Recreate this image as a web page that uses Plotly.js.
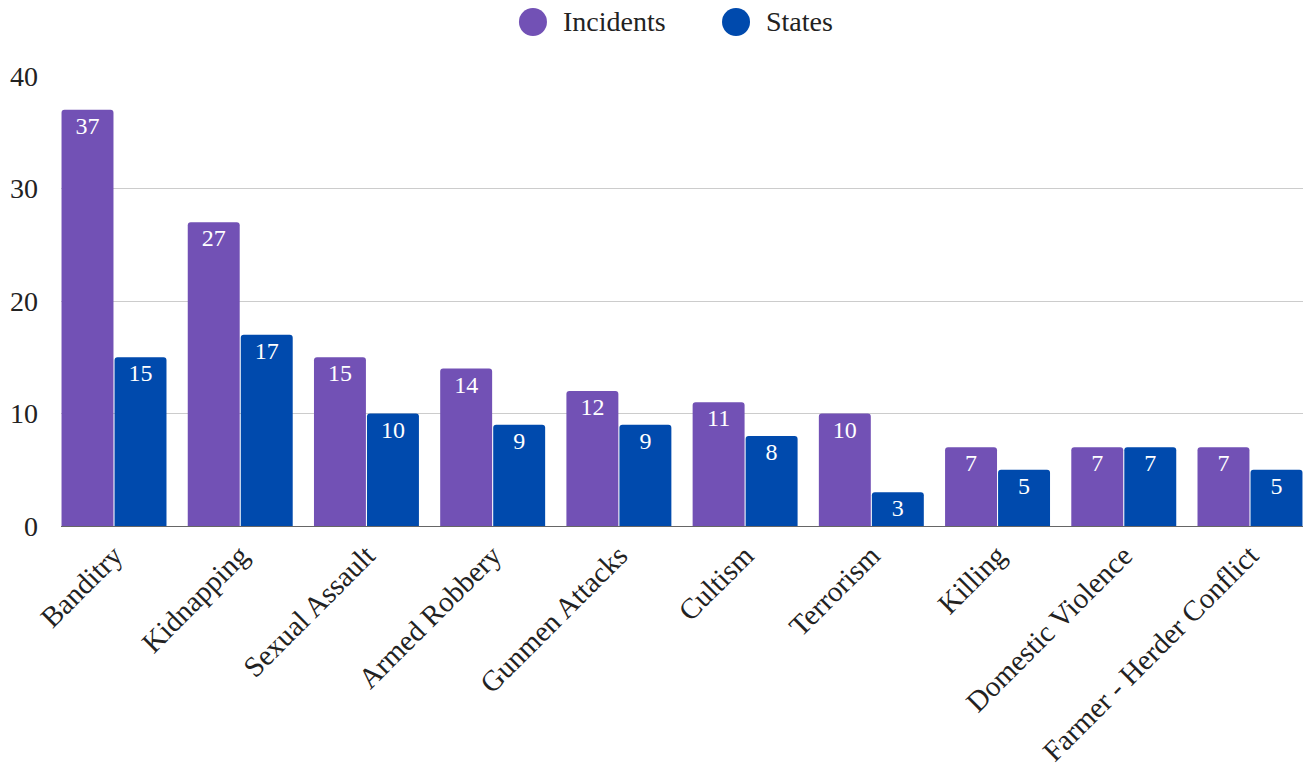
<!DOCTYPE html>
<html><head><meta charset="utf-8">
<script src="https://cdn.plot.ly/plotly-3.0.1.min.js"></script>
<style>html,body{margin:0;padding:0;background:#fff}#c{width:1308px;height:767px}</style>
</head><body><div id="c"></div>
<script>
const categories = ["Banditry","Kidnapping","Sexual Assault","Armed Robbery","Gunmen Attacks","Cultism","Terrorism","Killing","Domestic Violence","Farmer - Herder Conflict"];
const incidents = [37,27,15,14,12,11,10,7,7,7];
const states = [15,17,10,9,9,8,3,5,7,5];
const seriesNames = ["Incidents","States"];
const colors = ["#7251b5","#004aad"];
const FONT = "Liberation Serif, Times New Roman, serif";

const barCommon = {type:"bar", x:categories, textposition:"inside", insidetextanchor:"end",
  textfont:{family:FONT,size:24,color:"#ffffff"}, showlegend:false, hoverinfo:"x+y", textangle:0};
const traces = [
  Object.assign({}, barCommon, {name:seriesNames[0], y:incidents, text:incidents.map(String), marker:{color:colors[0]}}),
  Object.assign({}, barCommon, {name:seriesNames[1], y:states, text:states.map(String), marker:{color:colors[1]}})
];

// custom legend (circle swatches) above the plot
const legendX = [0.38, 0.5435]; // paper x of circle centres
const legendY = 1.12;
const shapes = [], annotations = [];
seriesNames.forEach((n, i) => {
  shapes.push({type:"circle", xref:"paper", yref:"paper", xsizemode:"pixel", ysizemode:"pixel",
    xanchor:legendX[i], yanchor:legendY, x0:-14, x1:14, y0:-14, y1:14,
    fillcolor:colors[i], line:{width:0}});
  annotations.push({xref:"paper", yref:"paper", x:legendX[i], y:legendY, xshift:28, xanchor:"left", yanchor:"middle",
    text:n, showarrow:false, font:{family:FONT,size:28,color:"#222"}});
});

const layout = {
  width:1308, height:767,
  margin:{l:61, r:5, t:76, b:241},
  paper_bgcolor:"#ffffff", plot_bgcolor:"#ffffff",
  font:{family:FONT, size:28, color:"#222222"},
  barmode:"group", bargap:0.16, bargroupgap:0.02, barcornerradius:3,
  xaxis:{type:"category", range:[-0.42, 9.42], tickangle:-45, tickfont:{family:FONT,size:29,color:"#222"}, showline:true, linecolor:"#666", linewidth:1, showgrid:false, ticks:"", automargin:false},
  yaxis:{range:[0,40], dtick:10, showgrid:true, gridcolor:"#cccccc", gridwidth:1, zeroline:false, tickfont:{family:FONT,size:28,color:"#222"}, ticklabelstandoff:22, automargin:false, showline:false},
  shapes:shapes, annotations:annotations,
  showlegend:false
};
Plotly.newPlot("c", traces, layout, {displayModeBar:false, responsive:false});
</script></body></html>
